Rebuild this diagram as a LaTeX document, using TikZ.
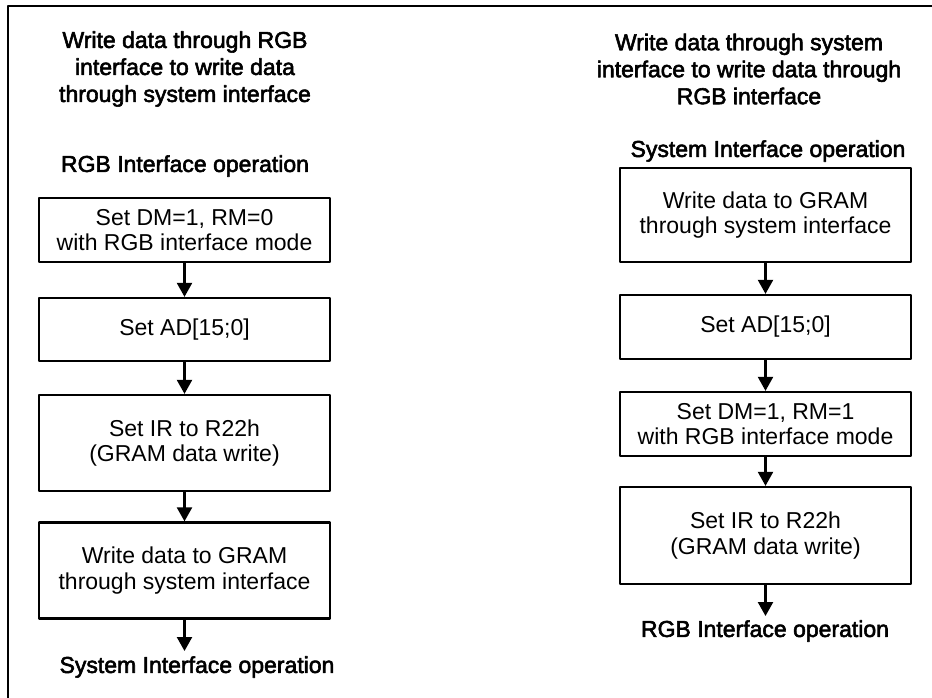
\documentclass[tikz,border=0pt]{standalone}
\usepackage{fontspec}
\setmainfont{Liberation Sans}
\newfontfamily\headfont[FakeBold=2.5]{Liberation Sans}
\usetikzlibrary{arrows.meta}
\begin{document}
\begin{tikzpicture}[x=1pt,y=-1pt,font=\fontsize{23}{25.5}\selectfont,line join=round,>={Triangle[length=14pt,width=15pt]}]
	\tikzset{hop/.style={draw,line width=2.3pt,minimum width=291pt,align=center,inner sep=0pt},
		tieude/.style={font=\headfont\fontsize{23}{27}\selectfont,align=center,inner sep=0pt},
		mui/.style={->,line width=2.3pt}}
	\useasboundingbox(0,0)rectangle(932,697);
	%Khung
	\draw[line width=2.5pt](8,710)--(8,6)--(945,6);
	%Cột trái
	\node[tieude](tdL)at(185,69){Write data through RGB\\interface to write data\\through system interface};
	\node[tieude](dauL)at(185,166){RGB Interface operation};
	\node[hop,minimum height=64pt](L1)at(184.5,230){Set DM=1, RM=0\\with RGB interface mode};
	\node[hop,minimum height=63pt](L2)at(184.5,329.5){Set AD[15;0]};
	\node[hop,minimum height=96pt](L3)at(184.5,443){Set IR to R22h\\(GRAM data write)};
	\node[hop,minimum height=96pt](L4)at(184.5,570.5){Write data to GRAM\\through system interface};
	\coordinate(eL)at(184.5,651);
	\node[tieude](cuoiL)at(197,667){System Interface operation};
	\draw[mui](L1)--(L2);
	\draw[mui](L2)--(L3);
	\draw[mui](L3)--(L4);
	\draw[mui](L4)--(eL);
	%Cột phải
	\node[tieude](tdR)at(749,69){Write data through system\\interface to write data through\\RGB interface};
	\node[tieude](dauR)at(768,151){System Interface operation};
	\node[hop,minimum height=94pt](R1)at(765.5,215){Write data to GRAM\\through system interface};
	\node[hop,minimum height=64pt](R2)at(765.5,327){Set AD[15;0]};
	\node[hop,minimum height=64pt](R3)at(765.5,424){Set DM=1, RM=1\\with RGB interface mode};
	\node[hop,minimum height=97pt](R4)at(765.5,535.5){Set IR to R22h\\(GRAM data write)};
	\coordinate(eR)at(765.5,616);
	\node[tieude](cuoiR)at(765,631){RGB Interface operation};
	\draw[mui](R1)--(R2);
	\draw[mui](R2)--(R3);
	\draw[mui](R3)--(R4);
	\draw[mui](R4)--(eR);
\end{tikzpicture}
\end{document}
